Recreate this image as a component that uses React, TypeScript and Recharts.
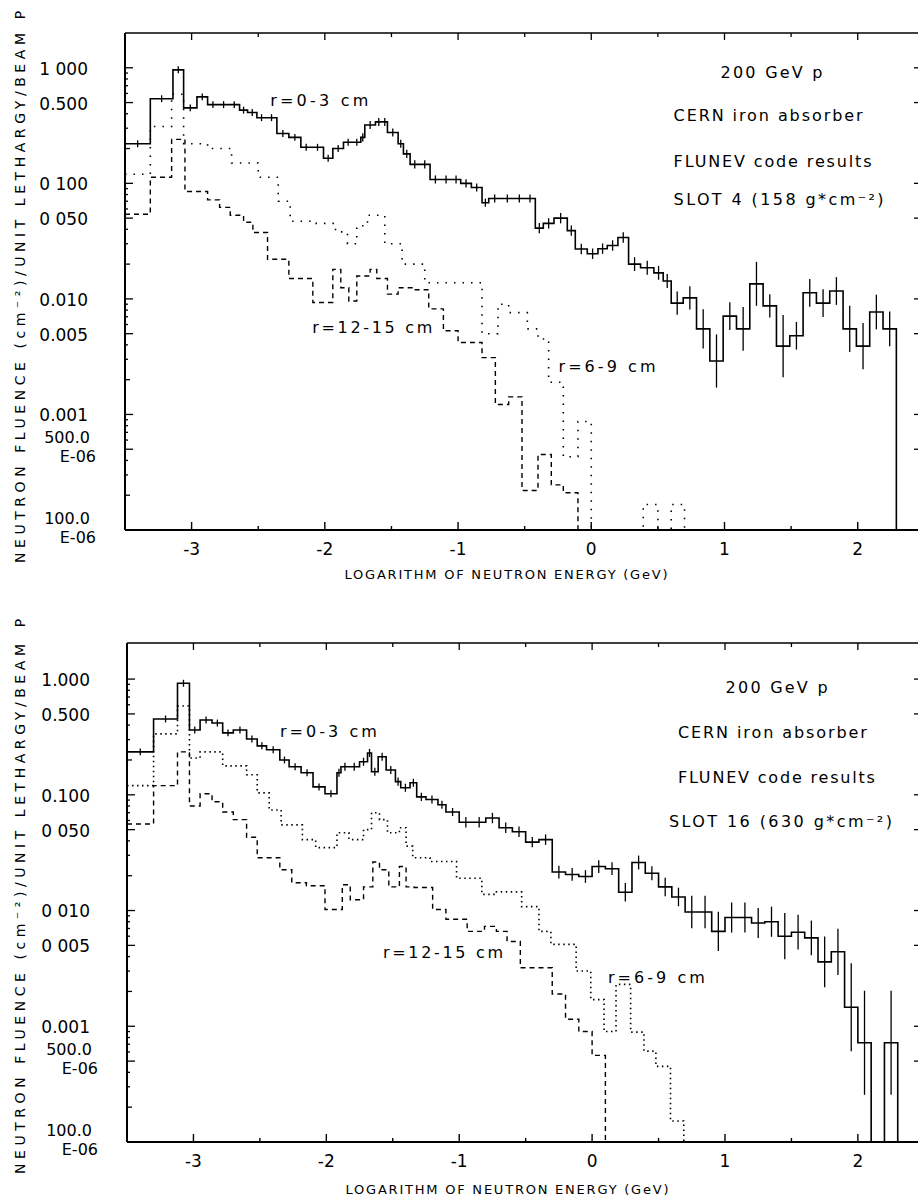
import React from 'react';
import { ComposedChart, Line, Scatter, XAxis, YAxis, ErrorBar, ReferenceDot, Label } from 'recharts';

const FLOOR = 1e-4;
const FONT = '"DejaVu Sans", Verdana, sans-serif';

// ---- axis ticks ----
const xTickValues = [-3, -2.5, -2, -1.5, -1, -0.5, 0, 0.5, 1, 1.5, 2];
const yLabelValues = [1, 0.5, 0.1, 0.05, 0.01, 0.005, 0.001, 0.0005, 0.0001];
const yMinorValues = [
  0.0002, 0.0003, 0.0004, 0.0006, 0.0007, 0.0008, 0.0009,
  0.002, 0.003, 0.004, 0.006, 0.007, 0.008, 0.009,
  0.02, 0.03, 0.04, 0.06, 0.07, 0.08, 0.09,
  0.2, 0.3, 0.4, 0.6, 0.7, 0.8, 0.9,
];
const topYLabels = ['1 000', '0.500', '0 100', '0 050', '0.010', '0.005', '0.001', '500.0|E-06', '100.0|E-06'];
const botYLabels = ['1.000', '0.500', '0.100', '0 050', '0 010', '0 005', '0.001', '500.0|E-06', '100.0|E-06'];

// ---- SLOT 4 (top panel) ----
const topSolidEdges = [-3.5, -3.31, -3.14, -3.06, -2.96, -2.88, -2.80, -2.72, -2.64, -2.58, -2.51, -2.44, -2.36, -2.27, -2.18, -2.10, -2.01, -1.94, -1.86, -1.79, -1.73, -1.70, -1.62, -1.57, -1.53, -1.45, -1.41, -1.36, -1.29, -1.21, -1.13, -1.05, -0.98, -0.90, -0.82, -0.77, -0.68, -0.58, -0.50, -0.42, -0.36, -0.28, -0.18, -0.12, -0.03, 0.05, 0.12, 0.20, 0.28, 0.37, 0.47, 0.54, 0.60, 0.69, 0.79, 0.89, 0.99, 1.09, 1.19, 1.29, 1.39, 1.49, 1.59, 1.69, 1.79, 1.89, 1.99, 2.09, 2.19, 2.29];
const topSolidVals = [0.22, 0.54, 0.96, 0.45, 0.56, 0.48, 0.48, 0.48, 0.43, 0.41, 0.37, 0.37, 0.27, 0.25, 0.205, 0.205, 0.165, 0.20, 0.227, 0.227, 0.25, 0.32, 0.34, 0.34, 0.275, 0.22, 0.18, 0.146, 0.146, 0.108, 0.108, 0.108, 0.10, 0.092, 0.068, 0.074, 0.074, 0.074, 0.074, 0.041, 0.045, 0.05, 0.039, 0.027, 0.0246, 0.0272, 0.029, 0.034, 0.020, 0.0186, 0.0168, 0.0143, 0.0092, 0.0102, 0.0055, 0.0029, 0.0071, 0.0055, 0.0135, 0.0087, 0.0039, 0.0048, 0.0113, 0.0092, 0.0117, 0.0055, 0.0039, 0.0077, 0.0055];
const topSolidErr = [0.03, 0.03, 0.03, 0.03, 0.03, 0.03, 0.03, 0.03, 0.03, 0.03, 0.03, 0.03, 0.03, 0.03, 0.03, 0.03, 0.03, 0.03, 0.03, 0.03, 0.035, 0.035, 0.035, 0.035, 0.035, 0.035, 0.035, 0.035, 0.035, 0.035, 0.035, 0.035, 0.035, 0.035, 0.035, 0.035, 0.035, 0.035, 0.035, 0.045, 0.045, 0.045, 0.045, 0.045, 0.045, 0.045, 0.045, 0.045, 0.06, 0.06, 0.06, 0.06, 0.1, 0.1, 0.17, 0.23, 0.12, 0.19, 0.19, 0.1, 0.27, 0.12, 0.12, 0.12, 0.12, 0.2, 0.2, 0.15, 0.15];
const topDashedEdges = [-3.5, -3.31, -3.15, -3.05, -2.88, -2.79, -2.71, -2.61, -2.54, -2.43, -2.27, -2.09, -1.94, -1.88, -1.82, -1.76, -1.66, -1.61, -1.53, -1.45, -1.33, -1.22, -1.11, -1.00, -0.82, -0.72, -0.62, -0.52, -0.40, -0.30, -0.21, -0.10];
const topDashedVals = [0.054, 0.113, 0.24, 0.085, 0.072, 0.062, 0.053, 0.046, 0.0375, 0.022, 0.015, 0.0093, 0.018, 0.0125, 0.0096, 0.0158, 0.018, 0.015, 0.011, 0.0125, 0.012, 0.0082, 0.0053, 0.0042, 0.0031, 0.00122, 0.00142, 0.00022, 0.00045, 0.000246, 0.00021];
const topDottedEdges = [-3.5, -3.31, -3.15, -3.06, -2.88, -2.70, -2.50, -2.35, -2.26, -2.10, -1.92, -1.83, -1.76, -1.68, -1.55, -1.42, -1.25, -0.82, -0.70, -0.62, -0.48, -0.40, -0.32, -0.21, -0.10, 0.00, 0.39, 0.50, 0.60, 0.70];
const topDottedVals = [0.12, 0.31, 0.59, 0.22, 0.20, 0.15, 0.113, 0.07, 0.047, 0.045, 0.038, 0.030, 0.043, 0.053, 0.03, 0.02, 0.0138, 0.005, 0.009, 0.0076, 0.0055, 0.0045, 0.0019, 0.00043, 0.00087, FLOOR, 0.000166, FLOOR, 0.000166];

// ---- SLOT 16 (bottom panel) ----
const botSolidEdges = [-3.5, -3.30, -3.12, -3.03, -2.95, -2.86, -2.78, -2.70, -2.60, -2.52, -2.45, -2.35, -2.28, -2.19, -2.10, -2.01, -1.92, -1.89, -1.83, -1.75, -1.69, -1.66, -1.61, -1.55, -1.48, -1.44, -1.37, -1.32, -1.25, -1.16, -1.10, -1.00, -0.90, -0.80, -0.70, -0.60, -0.50, -0.40, -0.30, -0.20, -0.10, 0.00, 0.10, 0.20, 0.30, 0.40, 0.50, 0.60, 0.70, 0.80, 0.90, 1.00, 1.10, 1.20, 1.30, 1.40, 1.50, 1.60, 1.70, 1.80, 1.90, 2.00, 2.10, 2.20, 2.30];
const botSolidVals = [0.235, 0.452, 0.92, 0.363, 0.443, 0.417, 0.343, 0.363, 0.304, 0.265, 0.245, 0.20, 0.175, 0.155, 0.117, 0.102, 0.155, 0.175, 0.175, 0.193, 0.23, 0.158, 0.213, 0.164, 0.13, 0.115, 0.127, 0.096, 0.091, 0.082, 0.071, 0.058, 0.058, 0.063, 0.052, 0.048, 0.039, 0.041, 0.0215, 0.0205, 0.0197, 0.024, 0.023, 0.0144, 0.026, 0.021, 0.016, 0.0131, 0.0097, 0.0097, 0.0066, 0.0087, 0.0087, 0.0078, 0.008, 0.0060, 0.0065, 0.0058, 0.0036, 0.0044, 0.00146, 0.00072, FLOOR, 0.00072];
const botSolidErr = [0.03, 0.03, 0.03, 0.03, 0.03, 0.03, 0.03, 0.03, 0.03, 0.03, 0.03, 0.03, 0.03, 0.03, 0.03, 0.03, 0.035, 0.035, 0.035, 0.035, 0.035, 0.035, 0.035, 0.035, 0.035, 0.035, 0.035, 0.035, 0.035, 0.035, 0.035, 0.045, 0.045, 0.045, 0.045, 0.045, 0.045, 0.045, 0.055, 0.055, 0.055, 0.055, 0.055, 0.08, 0.06, 0.06, 0.08, 0.08, 0.14, 0.14, 0.17, 0.13, 0.13, 0.13, 0.13, 0.2, 0.15, 0.15, 0.22, 0.2, 0.38, 0.45, 0, 0.45];
const botDashedEdges = [-3.5, -3.30, -3.12, -3.03, -2.95, -2.86, -2.78, -2.70, -2.60, -2.52, -2.35, -2.26, -2.15, -2.01, -1.88, -1.82, -1.72, -1.65, -1.60, -1.53, -1.45, -1.40, -1.34, -1.20, -1.10, -0.94, -0.81, -0.72, -0.64, -0.54, -0.30, -0.20, -0.10, 0.00, 0.10];
const botDashedVals = [0.056, 0.12, 0.235, 0.08, 0.102, 0.087, 0.071, 0.061, 0.043, 0.0286, 0.0225, 0.0174, 0.0164, 0.0102, 0.0167, 0.0124, 0.016, 0.0263, 0.0225, 0.016, 0.024, 0.016, 0.0158, 0.0102, 0.0084, 0.0066, 0.0073, 0.0066, 0.0054, 0.0032, 0.0019, 0.00115, 0.0009, 0.00056];
const botDottedEdges = [-3.5, -3.30, -3.12, -3.03, -2.95, -2.78, -2.60, -2.52, -2.43, -2.34, -2.18, -2.08, -1.92, -1.83, -1.72, -1.66, -1.60, -1.54, -1.45, -1.40, -1.35, -1.22, -1.02, -0.83, -0.72, -0.53, -0.40, -0.31, -0.12, -0.01, 0.09, 0.18, 0.29, 0.39, 0.48, 0.59, 0.69];
const botDottedVals = [0.12, 0.336, 0.585, 0.208, 0.235, 0.178, 0.149, 0.104, 0.074, 0.055, 0.041, 0.035, 0.047, 0.041, 0.05, 0.07, 0.061, 0.047, 0.052, 0.036, 0.0286, 0.0265, 0.019, 0.0138, 0.0145, 0.0108, 0.0066, 0.0051, 0.003, 0.0017, 0.0009, 0.0023, 0.00089, 0.00061, 0.00045, 0.000152];

// ---- annotations ----
type Note = { t: string; x: number; y: number; w: number };
const topNotes: Note[] = [
  { t: '200 GeV p', x: 1.353, y: 0.92, w: 102 },
  { t: 'CERN iron absorber', x: 1.327, y: 0.384, w: 189 },
  { t: 'FLUNEV code results', x: 1.361, y: 0.154, w: 198 },
  { t: 'SLOT 4 (158 g*cm⁻²)', x: 1.406, y: 0.072, w: 210 },
  { t: 'r=0-3 cm', x: -2.042, y: 0.52, w: 98 },
  { t: 'r=12-15 cm', x: -1.644, y: 0.0057, w: 120 },
  { t: 'r=6-9 cm', x: 0.118, y: 0.00258, w: 97 },
];
const botNotes: Note[] = [
  { t: '200 GeV p', x: 1.388, y: 0.853, w: 102 },
  { t: 'CERN iron absorber', x: 1.357, y: 0.348, w: 189 },
  { t: 'FLUNEV code results', x: 1.387, y: 0.142, w: 197 },
  { t: 'SLOT 16 (630 g*cm⁻²)', x: 1.417, y: 0.0593, w: 223 },
  { t: 'r=0-3 cm', x: -1.984, y: 0.355, w: 97 },
  { t: 'r=12-15 cm', x: -1.122, y: 0.00438, w: 120 },
  { t: 'r=6-9 cm', x: 0.484, y: 0.00267, w: 97 },
];

const X_DOMAIN: [number, number] = [-3.5, 2.46];
const yAllTicks = [...yLabelValues, ...yMinorValues].sort((a, b) => a - b);

function stepPoints(edges: number[], vals: number[]) {
  const pts = vals.map((v, i) => ({ x: edges[i], y: v }));
  const end = edges[edges.length - 1];
  pts.push({ x: end, y: vals[vals.length - 1] });
  pts.push({ x: end, y: FLOOR });
  return pts;
}

function errorPoints(edges: number[], vals: number[], errs: number[]) {
  const out: { x: number; y: number; err: [number, number] }[] = [];
  vals.forEach((v, i) => {
    if (v <= FLOOR || errs[i] <= 0) return;
    const f = Math.pow(10, errs[i]);
    const lo = Math.max(v / f, FLOOR);
    out.push({ x: (edges[i] + edges[i + 1]) / 2, y: v, err: [v - lo, v * f - v] });
  });
  return out;
}

const isInt = (v: number) => Math.abs(v - Math.round(v)) < 1e-6;

const bottomTick = (p: any) => {
  const { x, y, payload } = p;
  const v = payload.value;
  const major = isInt(v);
  return (
    <g>
      <line x1={x} x2={x} y1={y} y2={y - (major ? 8 : 4)} stroke="#000" strokeWidth={1.4} />
      {major && (
        <text x={x} y={y + 19} dy="0.35em" textAnchor="middle" fontSize={17} fontFamily={FONT} fill="#000">
          {String(v)}
        </text>
      )}
    </g>
  );
};

const topTick = (p: any) => {
  const { x, y, payload } = p;
  const major = isInt(payload.value);
  return <line x1={x} x2={x} y1={y} y2={y + (major ? 7 : 4)} stroke="#000" strokeWidth={1.3} />;
};

const rightTick = (p: any) => {
  const { x, y } = p;
  return <line x1={x} x2={x - 5} y1={y} y2={y} stroke="#000" strokeWidth={1.3} />;
};

function makeYTick(labels: string[]) {
  return (p: any) => {
    const { x, y, payload } = p;
    const v = payload.value;
    const idx = yLabelValues.findIndex((t) => Math.abs(t - v) / t < 1e-6);
    const major = idx >= 0;
    const two = !major && Math.abs(v / Math.pow(10, Math.floor(Math.log10(v) + 1e-9)) - 2) < 1e-6;
    const len = major ? 8 : two ? 5 : 3;
    let txt: React.ReactNode = null;
    if (major) {
      const lab = labels[idx];
      if (lab.includes('|')) {
        const [a, b] = lab.split('|');
        txt = (
          <g>
            <text x={x - 35} y={y - 12} dy="0.35em" textAnchor="end" fontSize={16} fontFamily={FONT} fill="#000">{a}</text>
            <text x={x - 29} y={y + 7} dy="0.35em" textAnchor="end" fontSize={16} fontFamily={FONT} fill="#000">{b}</text>
          </g>
        );
      } else {
        txt = (
          <text x={x - 37} y={y + 1} dy="0.35em" textAnchor="end" fontSize={17} fontFamily={FONT} fill="#000">{lab}</text>
        );
      }
    }
    return (
      <g>
        <line x1={x} x2={x + len} y1={y} y2={y} stroke="#000" strokeWidth={1.3} />
        {txt}
      </g>
    );
  };
}

const EmptyShape = () => <g />;

type PanelCfg = {
  top: number;
  height: number;
  yAxisWidth: number;
  xAxisHeight: number;
  yMax: number;
  solidEdges: number[];
  solidVals: number[];
  solidErr: number[];
  dashedEdges: number[];
  dashedVals: number[];
  dottedEdges: number[];
  dottedVals: number[];
  dotDash: string;
  yLabels: string[];
  notes: Note[];
  xTitleDx: number;
  xTitleDy: number;
  yTitleDy: number;
  pDy: number;
};

const Panel = ({ cfg }: { cfg: PanelCfg }) => {
  const solid = stepPoints(cfg.solidEdges, cfg.solidVals);
  const dashed = stepPoints(cfg.dashedEdges, cfg.dashedVals);
  const dotted = stepPoints(cfg.dottedEdges, cfg.dottedVals);
  const errs = errorPoints(cfg.solidEdges, cfg.solidVals, cfg.solidErr);
  const yTick = makeYTick(cfg.yLabels);

  const xTitle = (p: any) => {
    const vb = p.viewBox || {};
    return (
      <text x={vb.x + cfg.xTitleDx} y={vb.y + cfg.xTitleDy} dy="0.35em" textAnchor="middle" fontSize={13}
        fontFamily={FONT} fill="#000" textLength={323} lengthAdjust="spacing">
        LOGARITHM OF NEUTRON ENERGY (GeV)
      </text>
    );
  };
  const yTitle = (p: any) => {
    const vb = p.viewBox || {};
    const cx = 20;
    const cy = vb.y + cfg.yTitleDy;
    const py = vb.y + cfg.pDy;
    return (
      <g>
        <text x={cx} y={cy} dy="0.35em" textAnchor="middle" fontSize={14} fontFamily={FONT} fill="#000"
          transform={`rotate(-90, ${cx}, ${cy})`} textLength={530} lengthAdjust="spacing">
          NEUTRON FLUENCE (cm⁻²)/UNIT LETHARGY/BEAM
        </text>
        <text x={cx} y={py} dy="0.35em" textAnchor="middle" fontSize={14} fontFamily={FONT} fill="#000"
          transform={`rotate(-90, ${cx}, ${py})`}>
          P
        </text>
      </g>
    );
  };

  return (
    <div style={{ position: 'absolute', left: 0, top: cfg.top }}>
      <ComposedChart width={920} height={cfg.height} margin={{ top: 3, right: 0, bottom: 0, left: 0 }}>
        <XAxis xAxisId={0} dataKey="x" type="number" domain={X_DOMAIN} allowDataOverflow ticks={xTickValues}
          interval={0} tickSize={0} tickMargin={0} tickLine={false} tick={bottomTick} height={cfg.xAxisHeight}
          axisLine={{ stroke: '#000', strokeWidth: 2 }}>
          <Label content={xTitle} />
        </XAxis>
        <XAxis xAxisId="top" orientation="top" dataKey="x" type="number" domain={X_DOMAIN} allowDataOverflow
          ticks={xTickValues} interval={0} tickSize={0} tickMargin={0} tickLine={false} tick={topTick} height={30}
          axisLine={{ stroke: '#000', strokeWidth: 1.5 }} />
        <YAxis yAxisId={0} type="number" scale="log" domain={[FLOOR, cfg.yMax]} allowDataOverflow ticks={yAllTicks}
          interval={0} tickSize={0} tickMargin={0} tickLine={false} tick={yTick} width={cfg.yAxisWidth}
          axisLine={{ stroke: '#000', strokeWidth: 2 }}>
          <Label content={yTitle} />
        </YAxis>
        <YAxis yAxisId="right" orientation="right" type="number" scale="log" domain={[FLOOR, cfg.yMax]}
          allowDataOverflow ticks={yLabelValues.slice(0, 8)} interval={0} tickSize={0} tickMargin={0}
          tickLine={false} tick={rightTick} width={1} axisLine={false} />
        <Line data={solid} xAxisId="top" yAxisId="right" dataKey="y" stroke="none" dot={false} activeDot={false}
          isAnimationActive={false} legendType="none" />
        <Line data={dotted} dataKey="y" type="stepAfter" stroke="#000" strokeWidth={1.6}
          strokeDasharray={cfg.dotDash} dot={false} activeDot={false} isAnimationActive={false} />
        <Line data={dashed} dataKey="y" type="stepAfter" stroke="#000" strokeWidth={1.4} strokeDasharray="5 4"
          dot={false} activeDot={false} isAnimationActive={false} />
        <Line data={solid} dataKey="y" type="stepAfter" stroke="#000" strokeWidth={1.6} dot={false}
          activeDot={false} isAnimationActive={false} />
        <Scatter data={errs} dataKey="y" shape={EmptyShape} isAnimationActive={false}>
          <ErrorBar dataKey="err" direction="y" width={0} stroke="#000" strokeWidth={1.3} />
        </Scatter>
        {cfg.notes.map((n, i) => (
          <ReferenceDot key={i} x={n.x} y={n.y} r={0} ifOverflow="visible"
            shape={(p: any) => (
              <text x={p.cx} y={p.cy} dy="0.35em" textAnchor="middle" fontSize={16} fontFamily={FONT} fill="#000"
                textLength={n.w} lengthAdjust="spacing">
                {n.t}
              </text>
            )} />
        ))}
      </ComposedChart>
    </div>
  );
};

const topCfg: PanelCfg = {
  top: 0, height: 600, yAxisWidth: 125, xAxisHeight: 70, yMax: 2.0,
  solidEdges: topSolidEdges, solidVals: topSolidVals, solidErr: topSolidErr,
  dashedEdges: topDashedEdges, dashedVals: topDashedVals,
  dottedEdges: topDottedEdges, dottedVals: topDottedVals, dotDash: '1.5 7',
  yLabels: topYLabels, notes: topNotes, xTitleDx: 381, xTitleDy: 44, yTitleDy: 265, pDy: -18,
};
const botCfg: PanelCfg = {
  top: 610, height: 589, yAxisWidth: 127, xAxisHeight: 57, yMax: 2.05,
  solidEdges: botSolidEdges, solidVals: botSolidVals, solidErr: botSolidErr,
  dashedEdges: botDashedEdges, dashedVals: botDashedVals,
  dottedEdges: botDottedEdges, dottedVals: botDottedVals, dotDash: '1.5 3.5',
  yLabels: botYLabels, notes: botNotes, xTitleDx: 380, xTitleDy: 47, yTitleDy: 266, pDy: -20,
};

export default function App() {
  return (
    <div style={{ position: 'absolute', left: 0, top: 0, width: 918, height: 1199, overflow: 'hidden', background: '#fff' }}>
      <Panel cfg={topCfg} />
      <Panel cfg={botCfg} />
    </div>
  );
}
